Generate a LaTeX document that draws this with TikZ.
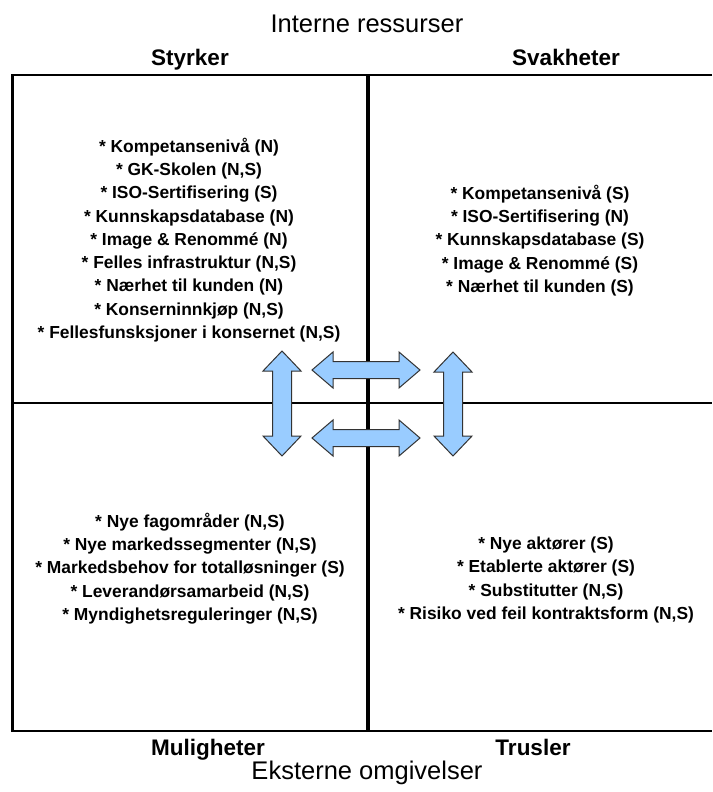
\documentclass[tikz,border=0pt]{standalone}
\usepackage{fontspec}
\setmainfont{Liberation Sans}
\definecolor{arrowfill}{HTML}{99CCFF}
\definecolor{arrowline}{HTML}{333333}
\begin{document}
\begin{tikzpicture}[x=1pt,y=-1pt,
  frame/.style={line width=2.2pt,black},
  midline/.style={line width=3.5pt,black},
  items/.style={align=center,inner sep=0pt,font=\bfseries\fontsize{17.4}{23.3}\selectfont},
  head/.style={inner sep=0pt,anchor=base,font=\bfseries\fontsize{22.5}{24}\selectfont},
  axis/.style={inner sep=0pt,anchor=base,font=\fontsize{25.5}{27}\selectfont},
  dblarrow/.style={fill=arrowfill,draw=arrowline,line width=1pt,line join=miter}]
\useasboundingbox (0,0) rectangle (712,792);
% frame
\draw[frame] (712,75) -- (12,75) -- (12,731) -- (712,731);
\draw[line width=3pt] (12,75) -- (12,731);
\draw[frame] (12,403) -- (712,403);
\draw[midline] (368,75) -- (368,731);
% headings
\node[axis] (intern) at (367,33) {Interne ressurser};
\node[head] (styrker) at (190,66) {Styrker};
\node[head] (svak) at (566,66) {Svakheter};
\node[head] (mulig) at (208,755) {Muligheter};
\node[head] (trusler) at (533,755) {Trusler};
\node[axis] (ekstern) at (367,779) {Eksterne omgivelser};
% items
\node[items] (s) at (189,240) {* Kompetansenivå (N)\\* GK-Skolen (N,S)\\* ISO-Sertifisering (S)\\* Kunnskapsdatabase (N)\\* Image \& Renommé (N)\\* Felles infrastruktur (N,S)\\* Nærhet til kunden (N)\\* Konserninnkjøp (N,S)\\* Fellesfunsksjoner i konsernet (N,S)};
\node[items] (w) at (540,240.5) {* Kompetansenivå (S)\\* ISO-Sertifisering (N)\\* Kunnskapsdatabase (S)\\* Image \& Renommé (S)\\* Nærhet til kunden (S)};
\node[items] (o) at (190,568.5) {* Nye fagområder (N,S)\\* Nye markedssegmenter (N,S)\\* Markedsbehov for totalløsninger (S)\\* Leverandørsamarbeid (N,S)\\* Myndighetsreguleringer (N,S)};
\node[items] (t) at (546,580) {* Nye aktører (S)\\* Etablerte aktører (S)\\* Substitutter (N,S)\\* Risiko ved feil kontraktsform (N,S)};
% vertical double arrows
\foreach \cx/\ta/\tb in {282/351/456, 453/352/456}{
  \draw[dblarrow] (\cx,\ta) -- (\cx+19,\ta+20) -- (\cx+9.5,\ta+20) -- (\cx+9.5,\tb-20) -- (\cx+19,\tb-20)
    -- (\cx,\tb) -- (\cx-19,\tb-20) -- (\cx-9.5,\tb-20) -- (\cx-9.5,\ta+20) -- (\cx-19,\ta+20) -- cycle;
}
% horizontal double arrows
\foreach \cy in {370, 438}{
  \draw[dblarrow] (312,\cy) -- (333,\cy-18) -- (333,\cy-8.5) -- (399,\cy-8.5) -- (399,\cy-18)
    -- (420,\cy) -- (399,\cy+18) -- (399,\cy+8.5) -- (333,\cy+8.5) -- (333,\cy+18) -- cycle;
}
\end{tikzpicture}
\end{document}
